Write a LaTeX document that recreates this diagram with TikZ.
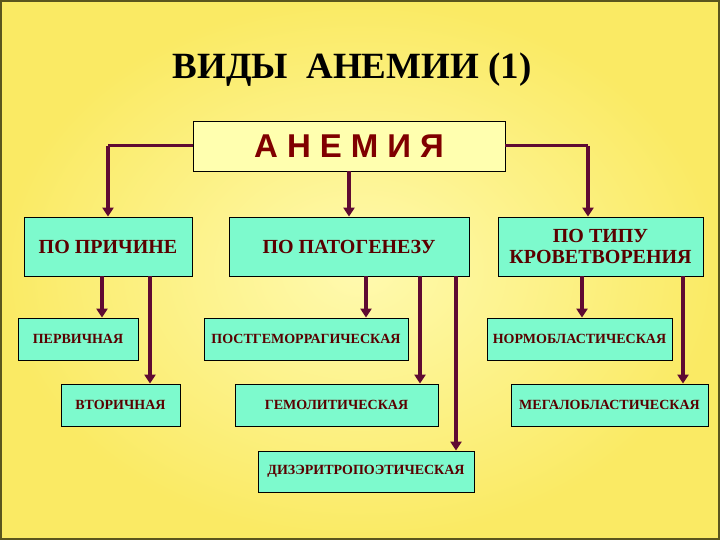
\documentclass[tikz,border=0pt]{standalone}
\usepackage{fontspec}
\setmainfont{Liberation Serif}
\newfontfamily\sansb{Liberation Sans}
\usetikzlibrary{arrows.meta}
\definecolor{bgin}{RGB}{255,250,175}
\definecolor{bgout}{RGB}{250,234,100}
\definecolor{aqua}{RGB}{125,250,205}
\definecolor{pale}{RGB}{255,255,175}
\definecolor{maroon}{RGB}{128,0,0}
\definecolor{arrc}{RGB}{95,10,50}
\tikzset{
  box/.style={draw=black, line width=0.8pt, fill=aqua, inner sep=0pt, align=center, text=maroon!70!black},
  bigtxt/.style={font=\rmfamily\bfseries\fontsize{20}{21}\selectfont},
  smalltxt/.style={font=\rmfamily\bfseries\fontsize{14}{16}\selectfont},
  arr/.style={draw=arrc, line width=4pt, -{Triangle[width=11pt,length=9pt]}},
  link/.style={draw=arrc, line width=3pt}
}
\begin{document}
\begin{tikzpicture}[x=1pt,y=-1pt]
\useasboundingbox (0,0) rectangle (720,540);
\shade[inner color=bgin, outer color=bgout] (0,0) rectangle (720,540);
\draw[color={rgb,255:red,90;green,85;blue,30}, line width=2pt] (1,1) rectangle (719,539);
\node[font=\rmfamily\bfseries\fontsize{37}{40}\selectfont] (title) at (352,70) {ВИДЫ\ \ АНЕМИИ (1)};
\node[draw=black, line width=0.8pt, fill=pale, minimum width=312pt, minimum height=50pt, inner sep=0pt,
  font=\sansb\bfseries\fontsize{33}{36}\selectfont, text=maroon] (anem) at (349,146) {А\hspace{9pt}Н\hspace{9pt}Е\hspace{9pt}М\hspace{9pt}И\hspace{9pt}Я};
% row 1
\node[box, bigtxt, minimum width=168pt, minimum height=59pt] (prich) at (108,246.5) {ПО ПРИЧИНЕ};
\node[box, bigtxt, minimum width=240pt, minimum height=59pt] (pat) at (349,246.5) {ПО ПАТОГЕНЕЗУ};
\node[box, bigtxt, minimum width=205pt, minimum height=59pt] (tip) at (600.5,246.5) {ПО ТИПУ\\КРОВЕТВОРЕНИЯ};
% row 2
\node[box, smalltxt, minimum width=120pt, minimum height=42pt] (perv) at (78,339) {ПЕРВИЧНАЯ};
\node[box, smalltxt, minimum width=204pt, minimum height=42pt] (post) at (306,339) {ПОСТГЕМОРРАГИЧЕСКАЯ};
\node[box, smalltxt, minimum width=185pt, minimum height=42pt] (norm) at (579.5,339) {НОРМОБЛАСТИЧЕСКАЯ};
% row 3
\node[box, smalltxt, minimum width=119pt, minimum height=42pt] (vtor) at (120.5,405) {ВТОРИЧНАЯ};
\node[box, smalltxt, minimum width=203pt, minimum height=42pt] (gemo) at (336.5,405) {ГЕМОЛИТИЧЕСКАЯ};
\node[box, smalltxt, minimum width=197pt, minimum height=42pt] (mega) at (609.5,405) {МЕГАЛОБЛАСТИЧЕСКАЯ};
% row 4
\node[box, smalltxt, minimum width=216pt, minimum height=41pt] (diz) at (366,471.5) {ДИЗЭРИТРОПОЭТИЧЕСКАЯ};
% connectors from АНЕМИЯ
\draw[link] (anem.west |- 0,146) -- (108,146) coordinate (cl);
\draw[arr] (cl) -- (108,0 |- prich.north);
\draw[link] (anem.east |- 0,146) -- (588,146) coordinate (cr);
\draw[arr] (cr) -- (588,0 |- tip.north);
\draw[arr] (anem.south) -- (pat.north);
% sub-arrows
\draw[arr] (102,0 |- prich.south) -- (102,0 |- perv.north);
\draw[arr] (150,0 |- prich.south) -- (150,0 |- vtor.north);
\draw[arr] (366,0 |- pat.south) -- (366,0 |- post.north);
\draw[arr] (420,0 |- pat.south) -- (420,0 |- gemo.north);
\draw[arr] (456,0 |- pat.south) -- (456,0 |- diz.north);
\draw[arr] (582,0 |- tip.south) -- (582,0 |- norm.north);
\draw[arr] (683,0 |- tip.south) -- (683,0 |- mega.north);
\end{tikzpicture}
\end{document}
